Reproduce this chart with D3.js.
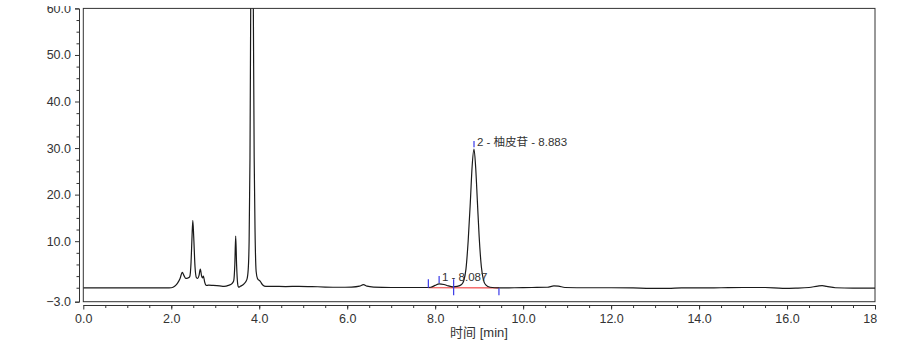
<!DOCTYPE html>
<html>
<head>
<meta charset="utf-8">
<script src="https://cdn.jsdelivr.net/npm/d3@7"></script>
<style>
  body { margin: 0; background: #fff; }
  text { font-family: "Liberation Sans", Arial, "Noto Sans CJK SC", sans-serif; fill: #333; }
</style>
</head>
<body>
<svg id="chrom" width="899" height="351"></svg>
<script>
// chromatogram trace: [time (min), signal (mAU)]
var signal = [
  [0.0, -0.05], [1.0, -0.05], [1.9, -0.05], [2.0, 0.0], [2.05, 0.15], [2.1, 0.5],
  [2.15, 1.1], [2.2, 2.0], [2.25, 3.3], [2.29, 2.6], [2.33, 2.0], [2.38, 2.1],
  [2.42, 2.4], [2.45, 5.5], [2.47, 10.5], [2.49, 14.5], [2.51, 11.0], [2.54, 4.5],
  [2.57, 2.2], [2.6, 2.0], [2.63, 2.6], [2.66, 4.0], [2.69, 2.5], [2.71, 2.1],
  [2.73, 2.5], [2.76, 1.2], [2.79, 0.5], [2.85, 0.55], [2.95, 0.5], [3.1, 0.4],
  [3.2, 0.3], [3.3, 0.5], [3.38, 0.9], [3.42, 1.5], [3.445, 5.0], [3.465, 11.1],
  [3.485, 5.0], [3.51, 0.8], [3.53, 0.1], [3.57, 0.3], [3.65, 0.8], [3.72, 1.8],
  [3.75, 4.0], [3.77, 10.0], [3.79, 28.0], [3.806, 60.0], [3.82, 82.0], [3.836, 92.0],
  [3.852, 82.0], [3.866, 60.0], [3.885, 28.0], [3.905, 12.0], [3.93, 3.5], [3.96, 2.0],
  [4.02, 1.4], [4.08, 0.6], [4.15, 0.3], [4.3, 0.3], [4.6, 0.25], [4.9, 0.3],
  [5.2, 0.25], [5.5, 0.15], [5.8, 0.1], [6.1, 0.15], [6.28, 0.35], [6.37, 0.65],
  [6.45, 0.35], [6.6, 0.15], [7.0, 0.05], [7.4, 0.05], [7.8, 0.05], [7.9, 0.1],
  [8.0, 0.5], [8.09, 0.85], [8.2, 0.7], [8.3, 0.4], [8.4, 0.2], [8.5, 0.3],
  [8.6, 0.7], [8.65, 1.5], [8.7, 4.0], [8.75, 10.0], [8.8, 18.5], [8.84, 26.0],
  [8.883, 29.8], [8.92, 26.0], [8.96, 18.5], [9.0, 11.0], [9.05, 4.5], [9.1, 1.6],
  [9.15, 0.6], [9.25, 0.1], [9.45, -0.05], [9.8, 0.0], [10.2, 0.05], [10.55, 0.1],
  [10.7, 0.4], [10.8, 0.35], [10.95, 0.05], [11.5, 0.0], [12.0, 0.0], [12.5, -0.05],
  [12.9, -0.15], [13.3, -0.15], [13.6, -0.05], [14.0, -0.05], [14.5, 0.0], [15.0, 0.05],
  [15.5, 0.05], [15.9, -0.15], [16.2, -0.1], [16.5, 0.05], [16.7, 0.35], [16.8, 0.45],
  [16.9, 0.3], [17.1, 0.0], [17.5, -0.1], [18.0, -0.1]
];

// axis ticks
var xMajorTicks = [0, 2, 4, 6, 8, 10, 12, 14, 16, 18];
var xMinorTicks = d3.range(0.5, 18, 0.5);
var yMajorTicks = [-3, 10, 20, 30, 40, 50, 60];
var yMinorTicks = [0, 2.5, 5, 7.5, 12.5, 15, 17.5, 22.5, 25, 27.5, 32.5, 35, 37.5, 42.5, 45, 47.5, 52.5, 55, 57.5];

// integrated peaks
var peakLabels = [
  { t: 8.087, v: 0.95, text: "1 - 8.087" },
  { t: 8.883, v: 29.8, text: "2 - 柚皮苷 - 8.883" }
];
// blue integration marks [time, from value, to value]
var peakMarks = [
  [7.845, 1.8, 0.0], [8.09, 2.5, 1.0], [8.42, 1.8, -1.6],
  [9.45, -0.1, -1.6], [8.883, 31.5, 30.2]
];
// red baseline [time, value]
var baseline = [[7.845, 0.0], [9.45, -0.05]];

var svg = d3.select("#chrom");

// picture is cut: top strip and everything right of the 18 tick
svg.append("clipPath").attr("id", "pageClip")
  .append("rect").attr("x", 0).attr("y", 6).attr("width", 877).attr("height", 345);
var g = svg.append("g").attr("clip-path", "url(#pageClip)");

var x = d3.scaleLinear().domain([0, 18]).range([83.3, 875]);
var y = d3.scaleLinear().domain([-3, 60]).range([301.7, 8.4]);

// plot frame
g.append("rect")
  .attr("x", x(0)).attr("y", y(60))
  .attr("width", x(18) - x(0)).attr("height", y(-3) - y(60))
  .attr("fill", "none").attr("stroke", "#333").attr("stroke-width", 1);

// y axis
var yAxisG = g.append("g").attr("transform", "translate(79,0)")
  .call(d3.axisLeft(y).tickValues(yMajorTicks).tickSize(4).tickPadding(4).tickFormat(d3.format(".1f")));
yAxisG.append("g")
  .call(d3.axisLeft(y).tickValues(yMinorTicks).tickSize(2.5).tickFormat("").tickSizeOuter(0));
yAxisG.selectAll("path, line").attr("stroke", "#333");
yAxisG.selectAll("text").style("font-size", "12.5px").attr("fill", "#333");

// x axis
var xAxisG = g.append("g").attr("transform", "translate(0,305)")
  .call(d3.axisBottom(x).tickValues(xMajorTicks).tickSize(4.5).tickPadding(5).tickFormat(d3.format(".1f")).tickSizeOuter(0));
xAxisG.append("g")
  .call(d3.axisBottom(x).tickValues(xMinorTicks).tickSize(3).tickFormat("").tickSizeOuter(0));
xAxisG.selectAll("path, line").attr("stroke", "#333");
xAxisG.selectAll("text").style("font-size", "12.5px").attr("fill", "#333");

g.append("text")
  .attr("x", 479).attr("y", 337)
  .attr("text-anchor", "middle")
  .style("font-size", "13px")
  .text("时间 [min]");

// trace, clipped to the frame
svg.append("clipPath").attr("id", "plotClip")
  .append("rect").attr("x", x(0)).attr("y", y(60))
  .attr("width", x(18) - x(0)).attr("height", y(-3) - y(60));

var plot = g.append("g").attr("clip-path", "url(#plotClip)");

var line = d3.line()
  .x(function(d){ return x(d[0]); })
  .y(function(d){ return y(d[1]); })
  .curve(d3.curveMonotoneX);

plot.append("path")
  .datum(baseline)
  .attr("d", d3.line().x(function(d){ return x(d[0]); }).y(function(d){ return y(d[1]); }))
  .attr("fill", "none").attr("stroke", "#f04040").attr("stroke-width", 1.2);

plot.append("path")
  .datum(signal)
  .attr("d", line)
  .attr("fill", "none")
  .attr("stroke", "#1a1a1a")
  .attr("stroke-width", 1.2)
  .attr("stroke-linejoin", "round");

plot.selectAll("line.mark")
  .data(peakMarks)
  .enter().append("line")
  .attr("class", "mark")
  .attr("x1", function(d){ return x(d[0]); })
  .attr("x2", function(d){ return x(d[0]); })
  .attr("y1", function(d){ return y(d[1]); })
  .attr("y2", function(d){ return y(d[2]); })
  .attr("stroke", "#3a3ae8").attr("stroke-width", 1.2);

// peak labels
g.selectAll("text.peak")
  .data(peakLabels)
  .enter().append("text")
  .attr("class", "peak")
  .attr("x", function(d){ return x(d.t) + 3; })
  .attr("y", function(d){ return y(d.v) - 2.5; })
  .style("font-size", "11.5px")
  .attr("fill", "#222")
  .text(function(d){ return d.text; });
</script>
</body>
</html>
